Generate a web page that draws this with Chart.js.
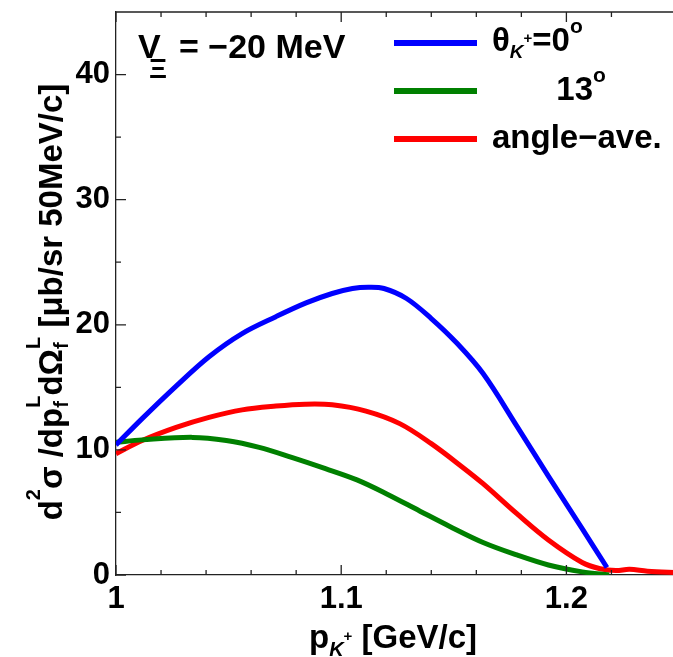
<!DOCTYPE html>
<html>
<head>
<meta charset="utf-8">
<script src="https://cdn.jsdelivr.net/npm/chart.js@4.4.1/dist/chart.umd.min.js"></script>
<style>
  html, body { margin: 0; padding: 0; background: #fff; overflow: hidden; }
  canvas { display: block; }
</style>
</head>
<body>
<canvas id="myChart" width="680" height="657"></canvas>
<script>
// values (x = p_K+ in GeV/c, y = cross section)
const blueX = [1.0, 1.0116, 1.0267, 1.0413, 1.056, 1.071, 1.0844, 1.096, 1.105, 1.112, 1.119, 1.129, 1.140, 1.151, 1.163, 1.178, 1.192, 1.207, 1.218];
const blueY = [10.4, 12.5, 15.1, 17.45, 19.3, 20.65, 21.75, 22.5, 22.9, 23.0, 22.9, 22.1, 20.5, 18.6, 16.1, 11.9, 7.9, 3.7, 0.6];

const greenX = [1.0, 1.0116, 1.034, 1.049, 1.0636, 1.078, 1.093, 1.107, 1.12, 1.135, 1.148, 1.163, 1.178, 1.192, 1.207, 1.219];
const greenY = [10.6, 10.8, 11.0, 10.75, 10.2, 9.4, 8.5, 7.6, 6.5, 5.1, 3.9, 2.6, 1.6, 0.8, 0.25, 0.0];

const redX = [1.0, 1.0116, 1.0267, 1.0413, 1.056, 1.071, 1.084, 1.096, 1.111, 1.126, 1.140, 1.154, 1.163, 1.178, 1.192, 1.207, 1.215, 1.222, 1.228, 1.236, 1.25];
const redY = [9.7, 10.75, 11.8, 12.6, 13.2, 13.5, 13.65, 13.6, 13.1, 12.1, 10.5, 8.6, 7.3, 4.9, 2.8, 1.0, 0.5, 0.35, 0.45, 0.3, 0.2];

const xMajor = [1.0, 1.1, 1.2];
const yMajor = [0, 10, 20, 30, 40];

const FAMILY = "'Liberation Sans', Arial, sans-serif";

function pairs(xs, ys) {
  return xs.map((x, i) => ({ x: x, y: ys[i] }));
}

function isMajor(v, list) {
  return list.some((m) => Math.abs(m - v) < 1e-6);
}

// draws text pieces one after another; hold = don't advance (for stacked sub/sup)
function drawRich(ctx, x, y, segs, measureOnly) {
  let cx = x;
  segs.forEach((s) => {
    ctx.font = (s.it ? "italic " : "") + "bold " + s.size + "px " + FAMILY;
    if (!measureOnly) ctx.fillText(s.t, cx, y + (s.dy || 0));
    if (!s.hold) cx += ctx.measureText(s.t).width;
  });
  return cx - x;
}

// inward ticks on the frame, plus top line
const frameTicks = {
  id: "frameTicks",
  afterDraw(chart) {
    const ctx = chart.ctx;
    const a = chart.chartArea;
    const xs = chart.scales.x;
    const ys = chart.scales.y;
    ctx.save();
    ctx.strokeStyle = "#222";
    ctx.lineWidth = 1.3;
    ctx.beginPath();
    ctx.moveTo(a.left, a.top);
    ctx.lineTo(a.right, a.top);
    xs.ticks.forEach((t) => {
      const px = xs.getPixelForValue(t.value);
      const len = isMajor(t.value, xMajor) ? 10 : 5;
      ctx.moveTo(px, a.bottom);
      ctx.lineTo(px, a.bottom - len);
      ctx.moveTo(px, a.top);
      ctx.lineTo(px, a.top + len);
    });
    ys.ticks.forEach((t) => {
      const py = ys.getPixelForValue(t.value);
      const len = isMajor(t.value, yMajor) ? 10 : 5;
      ctx.moveTo(a.left, py);
      ctx.lineTo(a.left + len, py);
    });
    ctx.stroke();
    ctx.restore();
  },
};

// title, legend, axis titles
const texts = {
  id: "texts",
  afterDraw(chart) {
    const ctx = chart.ctx;
    const ds = chart.data.datasets;
    ctx.save();
    ctx.fillStyle = "#000";
    ctx.textBaseline = "alphabetic";
    ctx.textAlign = "left";

    // V_Xi = -20 MeV
    drawRich(ctx, 138, 58, [{ t: "V", size: 34 }]);
    drawRich(ctx, 149, 78, [{ t: "Ξ", size: 28 }]);
    drawRich(ctx, 179, 58, [{ t: "= −20 MeV", size: 34 }]);

    // legend lines
    const rowsY = [43, 91, 139];
    ds.forEach((d, i) => {
      ctx.strokeStyle = d.borderColor;
      ctx.lineWidth = 6;
      ctx.beginPath();
      ctx.moveTo(394, rowsY[i]);
      ctx.lineTo(477, rowsY[i]);
      ctx.stroke();
    });

    drawRich(ctx, 492, 51, [
      { t: "θ", size: 33 },
      { t: "K", size: 19, it: true, dy: 7 },
      { t: "+", size: 15, dy: -8 },
      { t: "=0", size: 33 },
      { t: "o", size: 21, dy: -18 },
    ]);
    const w13 = drawRich(ctx, 0, 0, [{ t: "13", size: 33 }], true);
    drawRich(ctx, 593 - w13, 100, [
      { t: "13", size: 33 },
      { t: "o", size: 21, dy: -18 },
    ]);
    drawRich(ctx, 492, 148, [{ t: "angle−ave.", size: 33 }]);

    // x title
    const xSegs = [
      { t: "p", size: 33 },
      { t: "K", size: 20, it: true, dy: 8 },
      { t: "+", size: 15, dy: -7 },
      { t: " [GeV/c]", size: 33 },
    ];
    const xw = drawRich(ctx, 0, 0, xSegs, true);
    drawRich(ctx, 393 - xw / 2, 648, xSegs);

    // y title, rotated
    const ySegs = [
      { t: "d", size: 33 },
      { t: "2", size: 20, dy: -22 },
      { t: "σ /d", size: 33 },
      { t: "p", size: 33 },
      { t: "f", size: 20, dy: 6, hold: true },
      { t: "L", size: 20, dy: -22 },
      { t: "dΩ", size: 33 },
      { t: "f", size: 20, dy: 6, hold: true },
      { t: "L", size: 20, dy: -22 },
      { t: " [μb/sr 50MeV/c]", size: 33 },
    ];
    const yw = drawRich(ctx, 0, 0, ySegs, true);
    ctx.translate(62, 302 + yw / 2);
    ctx.rotate(-Math.PI / 2);
    drawRich(ctx, 0, 0, ySegs);
    ctx.restore();
  },
};

const ctx = document.getElementById("myChart").getContext("2d");
const myChart = new Chart(ctx, {
  type: "line",
  data: {
    datasets: [
      { label: "0", data: pairs(blueX, blueY), borderColor: "#0000ff" },
      { label: "13", data: pairs(greenX, greenY), borderColor: "#008000" },
      { label: "ave", data: pairs(redX, redY), borderColor: "#ff0000" },
    ],
  },
  options: {
    responsive: false,
    animation: false,
    layout: { padding: { top: 12, right: 1, left: 0, bottom: 0 } },
    elements: {
      line: { borderWidth: 5, tension: 0.35, fill: false, capBezierPoints: true },
      point: { radius: 0 },
    },
    plugins: { legend: { display: false }, tooltip: { enabled: false } },
    scales: {
      x: {
        type: "linear",
        min: 1,
        max: 1.25,
        grid: { display: false, drawTicks: false },
        border: { display: true, color: "#222", width: 1.3 },
        ticks: {
          stepSize: 0.02,
          autoSkip: false,
          maxRotation: 0,
          padding: 6,
          color: "#000",
          font: { family: FAMILY, size: 31, weight: "bold" },
          callback: (v) => (isMajor(v, xMajor) ? String(+v.toFixed(1)) : ""),
        },
        afterFit: (s) => {
          s.height = 82;
          s.paddingLeft = 0;
          s.paddingRight = 0;
        },
      },
      y: {
        min: 0,
        max: 45,
        grid: { display: false, drawTicks: false },
        border: { display: true, color: "#222", width: 1.3 },
        ticks: {
          stepSize: 5,
          autoSkip: false,
          padding: 6,
          color: "#000",
          font: { family: FAMILY, size: 31, weight: "bold" },
          callback: (v) => (isMajor(v, yMajor) ? String(v) : ""),
        },
        afterFit: (s) => {
          s.width = 116;
          s.paddingTop = 0;
          s.paddingBottom = 0;
        },
      },
    },
  },
  plugins: [frameTicks, texts],
});
</script>
</body>
</html>
